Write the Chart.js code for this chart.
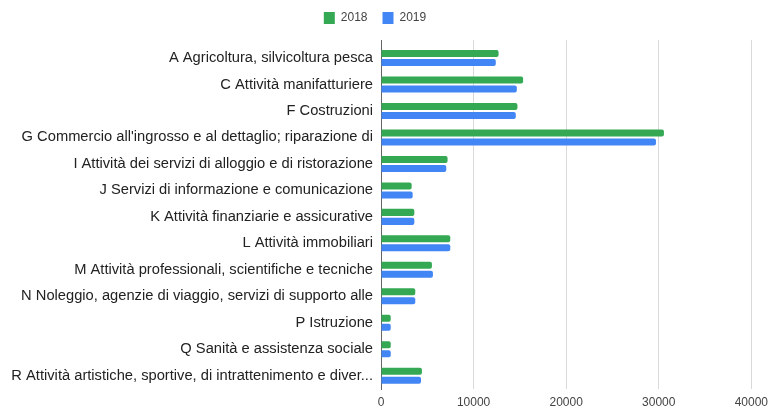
<!DOCTYPE html>
<html>
<head>
<meta charset="utf-8">
<script src="https://cdn.jsdelivr.net/npm/chart.js@4"></script>
<style>
html,body{margin:0;padding:0;background:#fff;}
#wrap{width:768px;height:408px;}
</style>
</head>
<body>
<div id="wrap"><canvas id="c" width="768" height="408"></canvas></div>
<script>
const categories = [
  "A Agricoltura, silvicoltura pesca",
  "C Attività manifatturiere",
  "F Costruzioni",
  "G Commercio all'ingrosso e al dettaglio; riparazione di",
  "I Attività dei servizi di alloggio e di ristorazione",
  "J Servizi di informazione e comunicazione",
  "K Attività finanziarie e assicurative",
  "L Attività immobiliari",
  "M Attività professionali, scientifiche e tecniche",
  "N Noleggio, agenzie di viaggio, servizi di supporto alle",
  "P Istruzione",
  "Q Sanità e assistenza sociale",
  "R Attività artistiche, sportive, di intrattenimento e diver..."
];
const values2018 = [12700, 15350, 14740, 30560, 7190, 3310, 3600, 7480, 5500, 3700, 1050, 1050, 4420];
const values2019 = [12400, 14670, 14560, 29700, 7050, 3420, 3600, 7480, 5610, 3700, 1050, 1050, 4320];
const xTicks = [0, 10000, 20000, 30000, 40000];

const FONT = "'Liberation Sans', Arial, sans-serif";
const PAD_TOP = -3;
const PLOT_TOP = 44.75;

const tweaks = {
  id: 'tweaks',
  beforeLayout(chart) {
    const lg = chart.legend;
    if (lg && !lg._patched) {
      const orig = lg.fit;
      lg.fit = function () { orig.call(this); this.height = PLOT_TOP - PAD_TOP; };
      lg._patched = true;
    }
  },
  afterLayout(chart) {
    if (chart.legend) { chart.legend.left -= 9; chart.legend.right -= 9; }
  },
  beforeDatasetsDraw(chart) {
    const ctx = chart.ctx, xs = chart.scales.x, top = chart.chartArea.top;
    ctx.save();
    ctx.lineWidth = 1;
    xTicks.forEach(v => {
      const px = Math.round(xs.getPixelForValue(v) - 0.5) + 0.5;
      ctx.strokeStyle = v === 0 ? '#666666' : '#d9d9d9';
      ctx.beginPath();
      ctx.moveTo(px, 40);
      ctx.lineTo(px, top);
      ctx.stroke();
    });
    ctx.restore();
  }
};

new Chart(document.getElementById('c'), {
  type: 'bar',
  data: {
    labels: categories,
    datasets: [
      { label: '2018', data: values2018, backgroundColor: '#34a853', borderRadius: 2,
        categoryPercentage: 0.68, barPercentage: 0.78 },
      { label: '2019', data: values2019, backgroundColor: '#4285f4', borderRadius: 2,
        categoryPercentage: 0.68, barPercentage: 0.78 }
    ]
  },
  options: {
    indexAxis: 'y',
    responsive: false,
    animation: false,
    devicePixelRatio: 1,
    layout: { padding: { top: PAD_TOP, right: 0, bottom: 0, left: 0 } },
    plugins: {
      legend: {
        position: 'top',
        labels: {
          boxWidth: 11, boxHeight: 12, padding: 15,
          color: '#444444',
          font: { family: FONT, size: 12 }
        }
      },
      tooltip: { enabled: false }
    },
    scales: {
      x: {
        min: 0, max: 40000,
        afterBuildTicks(s) { s.ticks = xTicks.map(v => ({ value: v })); },
        afterFit(s) { s.height = 19; },
        grid: { color: '#d9d9d9', drawTicks: true, tickLength: 6, tickColor: 'rgba(0,0,0,0)' },
        border: { display: false },
        ticks: { padding: 0, color: '#444444', font: { family: FONT, size: 12 }, maxRotation: 0,
          callback: v => String(v) }
      },
      y: {
        afterFit(s) { s.width = 381; },
        grid: { display: false, drawTicks: false },
        border: { display: true, color: '#666666', width: 1 },
        ticks: { padding: 8, color: '#222222', font: { family: FONT, size: 14.7 }, autoSkip: false }
      }
    }
  },
  plugins: [tweaks]
});
</script>
</body>
</html>
